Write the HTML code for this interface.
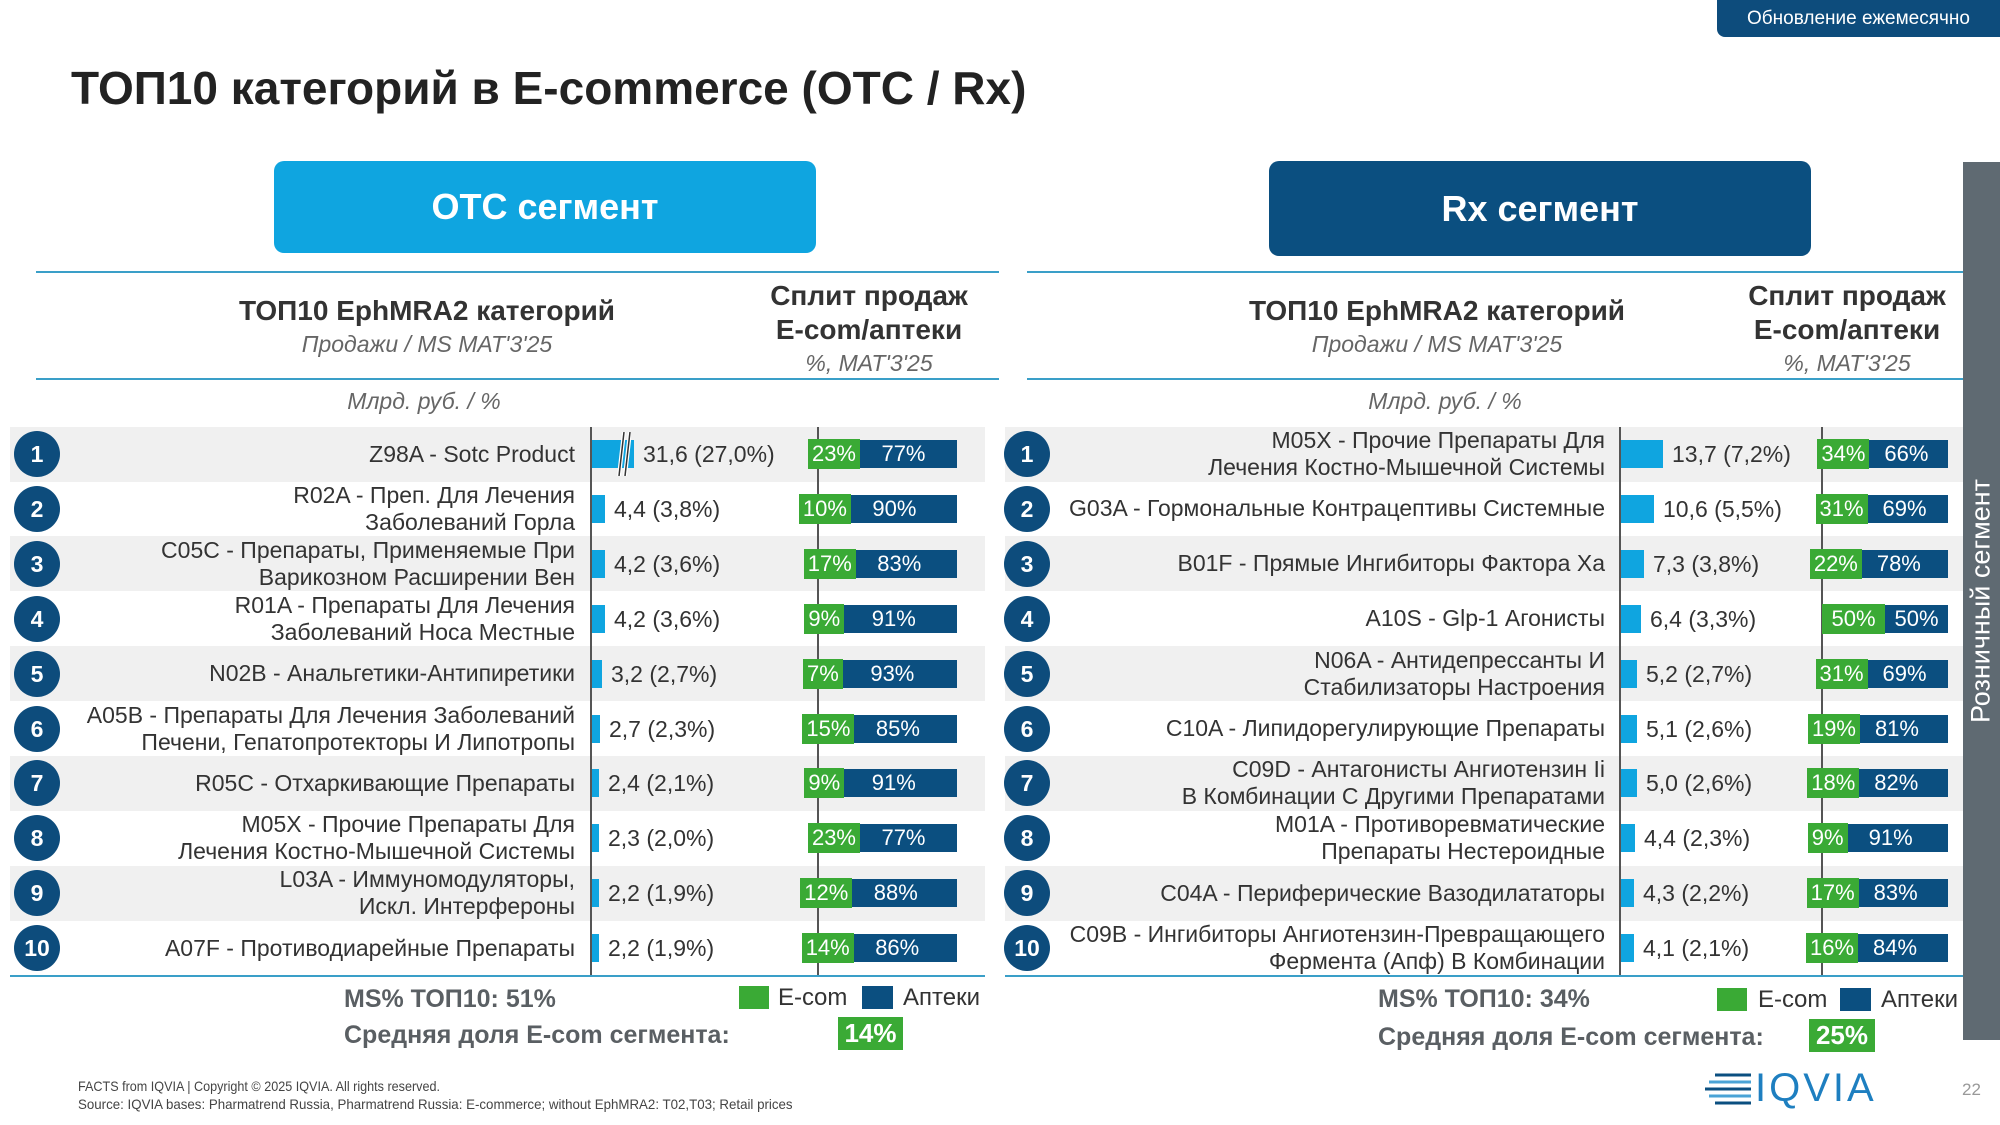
<!DOCTYPE html>
<html><head><meta charset="utf-8"><style>
*{margin:0;padding:0;box-sizing:border-box}
body{width:2000px;height:1125px;position:relative;background:#fff;font-family:"Liberation Sans",Arial,sans-serif;color:#333;overflow:hidden}
.a{position:absolute}
.band{position:absolute;height:55px;background:#f0f0f0}
.circ{position:absolute;width:46px;height:46px;border-radius:50%;background:#0d4c7c;color:#fff;font-weight:bold;font-size:23px;line-height:46px;text-align:center}
.lbl{position:absolute;text-align:right;font-size:23px;line-height:27px;color:#333;white-space:nowrap}
.bar{position:absolute;height:28px;background:#0fa5e0}
.val{position:absolute;font-size:23px;line-height:28px;color:#333;white-space:nowrap}
.dk{position:absolute;height:28px;background:#0b4f80;color:#fff;font-size:22px;line-height:28px;text-align:center}
.gr{position:absolute;height:30px;background:#3aaa35;color:#fff;font-size:22px;line-height:30px;text-align:center}
.vline{position:absolute;width:2px;background:#555}
.hl{position:absolute;height:2px;background:#3a9fc8}
.hdr{position:absolute;text-align:center;font-weight:bold;font-size:28px;color:#333}
.it{position:absolute;text-align:center;font-style:italic;font-size:23px;color:#666}
.ft{position:absolute;font-weight:bold;font-size:25px;color:#5a5f63;white-space:nowrap}
</style></head><body>
<div class="a" style="left:1717px;top:0;width:283px;height:37px;background:#0d4c7c;border-radius:0 0 0 8px;color:#fff;font-size:19px;line-height:37px;text-align:center">Обновление ежемесячно</div>
<div class="a" style="left:71px;top:61px;font-size:46px;font-weight:bold;color:#222;white-space:nowrap">ТОП10 категорий в E-commerce (OTC / Rx)</div>

<div class="a" style="left:274px;top:161px;width:542px;height:92px;background:#0fa5e0;border-radius:10px;color:#fff;font-weight:bold;font-size:36px;line-height:92px;text-align:center">OTC сегмент</div>
<div class="a" style="left:1269px;top:161px;width:542px;height:95px;background:#0b4f80;border-radius:10px;color:#fff;font-weight:bold;font-size:36px;line-height:95px;text-align:center">Rx сегмент</div>

<div class="a" style="left:1963px;top:162px;width:37px;height:878px;background:#5f6a72"></div>
<div class="a" style="left:1981px;top:601px;width:0;height:0"><div style="position:absolute;transform:translate(-50%,-50%) rotate(-90deg);color:#fff;font-size:27px;white-space:nowrap">Розничный сегмент</div></div>

<div class="hl" style="left:36px;top:271px;width:963px"></div>
<div class="hl" style="left:36px;top:378px;width:963px"></div>
<div class="hl" style="left:1027px;top:271px;width:936px"></div>
<div class="hl" style="left:1027px;top:378px;width:936px"></div>

<div class="hdr" style="left:177px;top:295px;width:500px">ТОП10 EphMRA2 категорий</div>
<div class="it" style="left:177px;top:331px;width:500px">Продажи / MS MAT'3'25</div>
<div class="hdr" style="left:719px;top:279px;width:300px;line-height:34px">Сплит продаж<br>E-com/аптеки</div>
<div class="it" style="left:719px;top:350px;width:300px">%, MAT'3'25</div>
<div class="it" style="left:274px;top:388px;width:300px">Млрд. руб. / %</div>

<div class="hdr" style="left:1187px;top:295px;width:500px">ТОП10 EphMRA2 категорий</div>
<div class="it" style="left:1187px;top:331px;width:500px">Продажи / MS MAT'3'25</div>
<div class="hdr" style="left:1697px;top:279px;width:300px;line-height:34px">Сплит продаж<br>E-com/аптеки</div>
<div class="it" style="left:1697px;top:350px;width:300px">%, MAT'3'25</div>
<div class="it" style="left:1295px;top:388px;width:300px">Млрд. руб. / %</div>

<div id="rows"></div>

<div class="hl" style="left:10px;top:975px;width:975px"></div>
<div class="hl" style="left:1005px;top:975px;width:958px"></div>

<div class="ft" style="left:344px;top:985px">MS% ТОП10: 51%</div>
<div class="ft" style="left:344px;top:1021px">Средняя доля E-com сегмента:</div>
<div class="a" style="left:838px;top:1017px;width:65px;height:33px;background:#3aaa35;color:#fff;font-weight:bold;font-size:26px;line-height:33px;text-align:center">14%</div>
<div class="a" style="left:739px;top:986px;width:30px;height:23px;background:#3aaa35"></div>
<div class="a" style="left:778px;top:984px;font-size:24px;color:#333">E-com</div>
<div class="a" style="left:862px;top:986px;width:31px;height:23px;background:#0b4f80"></div>
<div class="a" style="left:903px;top:984px;font-size:24px;color:#333">Аптеки</div>

<div class="ft" style="left:1378px;top:985px">MS% ТОП10: 34%</div>
<div class="ft" style="left:1378px;top:1023px">Средняя доля E-com сегмента:</div>
<div class="a" style="left:1809px;top:1019px;width:66px;height:33px;background:#3aaa35;color:#fff;font-weight:bold;font-size:26px;line-height:33px;text-align:center">25%</div>
<div class="a" style="left:1717px;top:988px;width:30px;height:23px;background:#3aaa35"></div>
<div class="a" style="left:1758px;top:986px;font-size:24px;color:#333">E-com</div>
<div class="a" style="left:1840px;top:988px;width:31px;height:23px;background:#0b4f80"></div>
<div class="a" style="left:1881px;top:986px;font-size:24px;color:#333">Аптеки</div>

<div class="a" style="left:78px;top:1078px;font-size:14px;color:#444;white-space:nowrap;transform:scaleX(.9);transform-origin:left">FACTS from IQVIA | Copyright © 2025 IQVIA. All rights reserved.</div>
<div class="a" style="left:78px;top:1096px;font-size:14px;color:#444;white-space:nowrap;transform:scaleX(.95);transform-origin:left">Source: IQVIA bases: Pharmatrend Russia, Pharmatrend Russia: E-commerce; without EphMRA2: T02,T03; Retail prices</div>

<svg class="a" style="left:1705px;top:1072px" width="50" height="34">
<g stroke-width="3">
<line x1="10" y1="3" x2="46" y2="3" stroke="#0b4f80"/>
<line x1="4" y1="10" x2="46" y2="10" stroke="#4aa3d6"/>
<line x1="0" y1="17" x2="46" y2="17" stroke="#0b4f80"/>
<line x1="4" y1="24" x2="46" y2="24" stroke="#4aa3d6"/>
<line x1="10" y1="31" x2="46" y2="31" stroke="#0b4f80"/>
</g></svg>
<div class="a" style="left:1755px;top:1066px;font-size:40px;color:#1e7fc0;letter-spacing:3px">IQVIA</div>
<div class="a" style="left:1962px;top:1080px;font-size:17px;color:#999">22</div>

<script>
var L=[["Z98A - Sotc Product","31,6 (27,0%)",0,23],
["R02A - Преп. Для Лечения <br>Заболеваний Горла","4,4 (3,8%)",4.4,10],
["C05C - Препараты, Применяемые При <br>Варикозном Расширении Вен","4,2 (3,6%)",4.2,17],
["R01A - Препараты Для Лечения<br>Заболеваний Носа Местные","4,2 (3,6%)",4.2,9],
["N02B - Анальгетики-Антипиретики","3,2 (2,7%)",3.2,7],
["A05B - Препараты Для Лечения Заболеваний<br>Печени, Гепатопротекторы И Липотропы","2,7 (2,3%)",2.7,15],
["R05C - Отхаркивающие Препараты","2,4 (2,1%)",2.4,9],
["M05X - Прочие Препараты Для<br>Лечения Костно-Мышечной Системы","2,3 (2,0%)",2.3,23],
["L03A - Иммуномодуляторы,<br>Искл. Интерфероны","2,2 (1,9%)",2.2,12],
["A07F - Противодиарейные Препараты","2,2 (1,9%)",2.2,14]];
var R=[["M05X - Прочие Препараты Для<br>Лечения Костно-Мышечной Системы","13,7 (7,2%)",13.7,34],
["G03A - Гормональные Контрацептивы Системные","10,6 (5,5%)",10.6,31],
["B01F - Прямые Ингибиторы Фактора Ха","7,3 (3,8%)",7.3,22],
["A10S - Glp-1 Агонисты","6,4 (3,3%)",6.4,50],
["N06A - Антидепрессанты И<br>Стабилизаторы Настроения","5,2 (2,7%)",5.2,31],
["C10A - Липидорегулирующие Препараты","5,1 (2,6%)",5.1,19],
["C09D - Антагонисты Ангиотензин Ii<br>В Комбинации С Другими Препаратами","5,0 (2,6%)",5.0,18],
["M01A - Противоревматические<br>Препараты Нестероидные","4,4 (2,3%)",4.4,9],
["C04A - Периферические Вазодилататоры","4,3 (2,2%)",4.3,17],
["C09B - Ингибиторы Ангиотензин-Превращающего<br>Фермента (Апф) В Комбинации","4,1 (2,1%)",4.1,16]];
var h="";
function side(D,o){
 for(var i=0;i<10;i++){
  var c=454+i*54.9,top=c-27.5;
  if(i%2==0) h+='<div class="band" style="left:'+o.bx+'px;top:'+top+'px;width:'+o.bw+'px"></div>';
 }
 h+='<div class="vline" style="left:'+(o.ax-1)+'px;top:427px;height:549px"></div>';
 h+='<div class="vline" style="left:'+(o.sx-1)+'px;top:427px;height:549px"></div>';
 for(var i=0;i<10;i++){
  var c=454+i*54.9,d=D[i];
  h+='<div class="circ" style="left:'+(o.cx-23)+'px;top:'+(c-23)+'px">'+(i+1)+'</div>';
  var two=d[0].indexOf("<br>")>=0;
  h+='<div class="lbl" style="right:'+(2000-o.lr)+'px;top:'+(c-(two?27:13.5))+'px">'+d[0]+'</div>';
  var bw=d[2]?Math.round(d[2]*o.k):42;
  h+='<div class="bar" style="left:'+(o.ax+1)+'px;top:'+(c-14)+'px;width:'+bw+'px"></div>';
  if(!d[2]) h+='<svg class="a" style="left:'+(o.ax+22)+'px;top:'+(c-22)+'px" width="18" height="44"><line x1="6" y1="44" x2="11" y2="0" stroke="#fff" stroke-width="4"/><line x1="6" y1="44" x2="11" y2="0" stroke="#333" stroke-width="1.5"/><line x1="12" y1="44" x2="17" y2="0" stroke="#fff" stroke-width="4"/><line x1="12" y1="44" x2="17" y2="0" stroke="#333" stroke-width="1.5"/></svg>';
  h+='<div class="val" style="left:'+(o.ax+bw+10)+'px;top:'+(c-14)+'px">'+d[1]+'</div>';
  var ds=o.sx+d[3]/100*o.sw,gw=ds-o.sx,tw=d[3]<10?40:52,w=Math.max(gw,tw),gc=(o.sx+ds)/2;
  h+='<div class="dk" style="left:'+ds+'px;top:'+(c-14)+'px;width:'+(o.sx+o.sw-ds)+'px">'+(100-d[3])+'%</div>';
  h+='<div class="gr" style="left:'+(gc-w/2)+'px;top:'+(c-15)+'px;width:'+w+'px">'+d[3]+'%</div>';
 }
}
side(L,{bx:10,bw:975,cx:37,lr:575,ax:591,k:3,sx:818,sw:139});
side(R,{bx:1005,bw:958,cx:1027,lr:1605,ax:1620,k:3.1,sx:1822,sw:126});
document.getElementById("rows").innerHTML=h;
</script>
</body></html>
